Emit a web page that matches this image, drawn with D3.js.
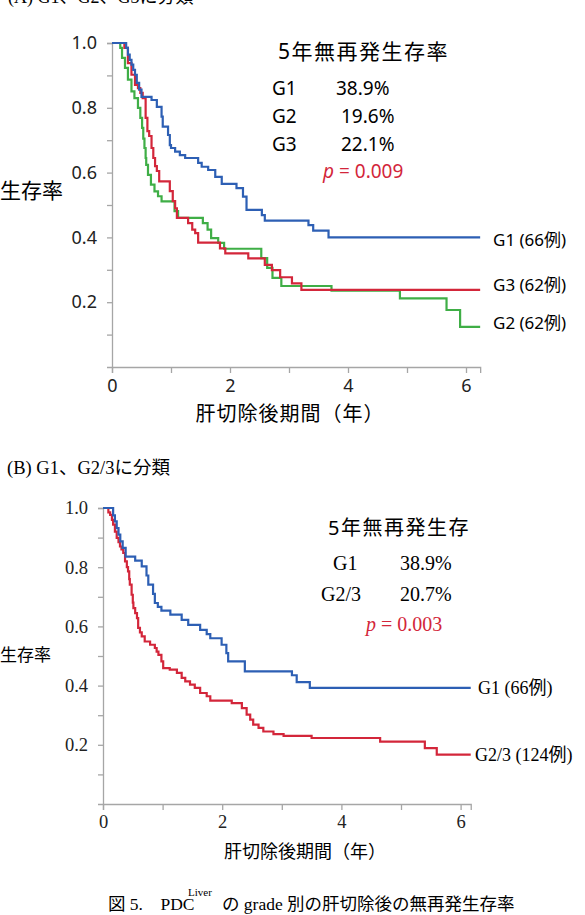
<!DOCTYPE html>
<html><head><meta charset="utf-8">
<script src="https://cdn.jsdelivr.net/npm/d3@7"></script>
<style>body{margin:0;background:#fff}svg{display:block}</style>
</head><body>
<script>
// ---------- DATA ----------
// Panel A (G1, G2, G3) : step start times (years) and survival levels
const a_g1_t = [0,0.24,0.27,0.30,0.33,0.36,0.39,0.42,0.46,0.50,0.67,0.76,0.84,0.86,0.95,0.98,1.00,1.07,1.15,1.24,1.46,1.52,1.63,1.75,1.86,2.11,2.22,2.28,2.54,2.59,3.33,3.41,3.67];
const a_g1_s = [1.0,0.985,0.964,0.948,0.933,0.917,0.902,0.877,0.856,0.834,0.824,0.803,0.773,0.742,0.716,0.685,0.676,0.665,0.654,0.645,0.63,0.618,0.608,0.587,0.565,0.552,0.526,0.485,0.469,0.452,0.438,0.421,0.40];
const a_g2_t = [0,0.14,0.17,0.22,0.27,0.33,0.38,0.44,0.48,0.51,0.53,0.55,0.57,0.58,0.61,0.66,0.72,0.78,0.84,1.06,1.12,1.54,1.62,1.68,1.80,1.90,2.53,2.63,2.72,2.87,3.72,4.88,5.67,5.90];
const a_g2_s = [1.0,0.985,0.954,0.923,0.887,0.851,0.830,0.800,0.769,0.738,0.705,0.676,0.645,0.624,0.593,0.563,0.542,0.527,0.511,0.481,0.460,0.444,0.424,0.398,0.383,0.365,0.336,0.306,0.275,0.250,0.236,0.212,0.176,0.124];
const a_g3_t = [0,0.21,0.27,0.33,0.39,0.44,0.48,0.52,0.57,0.60,0.63,0.67,0.70,0.73,0.76,0.80,0.98,1.03,1.07,1.10,1.29,1.36,1.41,1.46,1.83,1.92,2.31,2.59,2.71,2.85,3.05,3.21];
const a_g3_s = [1.0,0.985,0.938,0.902,0.871,0.861,0.846,0.830,0.769,0.728,0.713,0.676,0.645,0.620,0.605,0.573,0.543,0.512,0.490,0.460,0.444,0.424,0.413,0.384,0.366,0.351,0.335,0.315,0.299,0.277,0.258,0.238];
const a_end = 6.24;
// Panel B (G1, G2/3)
const b_g1_t = [0,0.17,0.20,0.23,0.26,0.29,0.33,0.38,0.54,0.65,0.73,0.76,0.84,0.87,0.92,0.98,1.13,1.32,1.43,1.63,1.74,1.80,1.99,2.07,2.10,2.38,3.17,3.25,3.47];
const b_g1_s = [1.0,0.975,0.955,0.932,0.910,0.887,0.865,0.836,0.822,0.803,0.772,0.741,0.710,0.679,0.666,0.653,0.640,0.622,0.605,0.588,0.574,0.560,0.538,0.510,0.482,0.448,0.435,0.412,0.392];
const b_g23_t = [0,0.09,0.12,0.15,0.17,0.20,0.23,0.26,0.285,0.31,0.34,0.37,0.40,0.42,0.44,0.45,0.48,0.50,0.51,0.54,0.57,0.59,0.62,0.65,0.70,0.79,0.87,0.90,0.93,0.98,1.01,1.12,1.24,1.32,1.38,1.46,1.54,1.63,1.74,1.80,2.16,2.33,2.41,2.47,2.52,2.61,2.69,2.86,3.03,3.50,4.65,5.40,5.60];
const b_g23_s = [1.0,0.985,0.977,0.960,0.944,0.920,0.899,0.885,0.870,0.860,0.848,0.820,0.800,0.786,0.760,0.741,0.707,0.680,0.662,0.645,0.628,0.595,0.580,0.566,0.549,0.538,0.527,0.515,0.504,0.482,0.459,0.454,0.443,0.426,0.414,0.403,0.392,0.375,0.364,0.349,0.341,0.324,0.302,0.285,0.268,0.257,0.245,0.236,0.230,0.223,0.211,0.189,0.167];
const b_end = 6.17;

const yTicks = [0.1,0.2,0.3,0.4,0.5,0.6,0.7,0.8,0.9,1.0];
const yLabels = ["","0.2","","0.4","","0.6","","0.8","","1.0"];
const xTicks = [0,1,2,3,4,5,6];
const xLabels = ["0","","2","","4","","6"];

const a_names = ["G1 (66例)","G3 (62例)","G2 (62例)"];
const a_rates = [["G1","38.9%"],["G2","19.6%"],["G3","22.1%"]];
const b_names = ["G1 (66例)","G2/3 (124例)"];
const b_rates = [["G1","38.9%"],["G2/3","20.7%"]];

// ---------- DRAW ----------
const W=585,H=915;
const svg=d3.select("body").append("svg").attr("width",W).attr("height",H);
const BLUE="#2d5fb4", RED="#d3263a", GREEN="#3fae46", AX="#a6a6a6";
const SANS="'Noto Sans','Noto Sans CJK JP',sans-serif";
const SERIF="'Liberation Serif','Noto Sans CJK JP',serif";

function pts(t,s,end){const p=t.map((v,i)=>[v,s[i]]);p.push([end,s[s.length-1]]);return p;}

function panel(cfg){
  const x=d3.scaleLinear().domain([0,cfg.end]).range([cfg.x0,cfg.x0+cfg.end*cfg.kx]);
  const y=d3.scaleLinear().domain([0,1]).range([cfg.y0,cfg.y1]);
  const g=svg.append("g");
  const xa=g.append("g").attr("transform",`translate(0,${cfg.y0})`)
    .call(d3.axisBottom(x).tickValues(xTicks).tickFormat((d,i)=>xLabels[i]).tickSizeOuter(0).tickSize(6).tickPadding(cfg.xpad));
  const ya=g.append("g").attr("transform",`translate(${cfg.x0},0)`)
    .call(d3.axisLeft(y).tickValues(yTicks).tickFormat((d,i)=>yLabels[i]).tickSizeOuter(0).tickSize(5).tickPadding(10));
  [xa,ya].forEach(a=>{a.selectAll("path,line").attr("stroke",AX).attr("stroke-width",1.3);
    a.selectAll("text").attr("fill","#222").style("font-family",cfg.font).style("font-size",cfg.fs+"px");});
  const line=d3.line().x(d=>x(d[0])).y(d=>y(d[1])).curve(d3.curveStepAfter);
  cfg.series.forEach(se=>{
    g.append("path").attr("d",line(pts(se.t,se.s,cfg.end))).attr("fill","none")
     .attr("stroke",se.c).attr("stroke-width",2.2).attr("stroke-linejoin","miter");
  });
  return {x,y};
}

// Panel A
svg.append("text").attr("x",8).attr("y",3).style("font-family",SERIF).style("font-size","18px").text("(A) G1、G2、G3に分類");
panel({x0:112,kx:59,end:a_end,y0:367,y1:43,xpad:6,font:SANS,fs:18,
  series:[{t:a_g2_t,s:a_g2_s,c:GREEN},{t:a_g3_t,s:a_g3_s,c:RED},{t:a_g1_t,s:a_g1_s,c:BLUE}]});
svg.append("text").attr("x",0).attr("y",198).style("font-family",SANS).style("font-size","21px").text("生存率");
svg.append("text").attr("x",290).attr("y",421).attr("text-anchor","middle").style("font-family",SANS).style("font-size","20px").style("letter-spacing","1px").text("肝切除後期間（年）");
svg.append("text").attr("x",278).attr("y",59).style("font-family",SANS).style("font-size","21px").style("letter-spacing","1.5px").text("5年無再発生存率");
const aRX=[336,341,341], aRY=[95,123,151];
a_rates.forEach((r,i)=>{
  svg.append("text").attr("x",272).attr("y",aRY[i]).style("font-family",SANS).style("font-size","19px").text(r[0]);
  svg.append("text").attr("x",aRX[i]).attr("y",aRY[i]).style("font-family",SANS).style("font-size","19px").text(r[1]);
});
const pa=svg.append("text").attr("x",323).attr("y",178).attr("fill",RED).style("font-family",SANS).style("font-size","19px");
pa.append("tspan").style("font-style","italic").text("p");pa.append("tspan").text(" = 0.009");
const aLY=[246,291,329];
a_names.forEach((n,i)=>svg.append("text").attr("x",493).attr("y",aLY[i]).style("font-family",SANS).style("font-size","17px").text(n));

// Panel B
svg.append("text").attr("x",7).attr("y",474).style("font-family",SERIF).style("font-size","18.5px").text("(B) G1、G2/3に分類");
panel({x0:103,kx:59.6,end:b_end,y0:804,y1:508,xpad:5,font:SERIF,fs:18.5,
  series:[{t:b_g23_t,s:b_g23_s,c:RED},{t:b_g1_t,s:b_g1_s,c:BLUE}]});
svg.append("text").attr("x",0).attr("y",661).style("font-family",SANS).style("font-size","17px").text("生存率");
svg.append("text").attr("x",305).attr("y",858).attr("text-anchor","middle").style("font-family",SANS).style("font-size","18px").text("肝切除後期間（年）");
svg.append("text").attr("x",328).attr("y",535).style("font-family",SANS).style("font-size","20px").style("letter-spacing","1.5px").text("5年無再発生存");
const bLX=[333,321], bRY=[570,601];
b_rates.forEach((r,i)=>{
  svg.append("text").attr("x",bLX[i]).attr("y",bRY[i]).style("font-family",SERIF).style("font-size","20px").text(r[0]);
  svg.append("text").attr("x",400).attr("y",bRY[i]).style("font-family",SERIF).style("font-size","20px").text(r[1]);
});
const pb=svg.append("text").attr("x",366).attr("y",631).attr("fill",RED).style("font-family",SERIF).style("font-size","20px");
pb.append("tspan").style("font-style","italic").text("p");pb.append("tspan").text(" = 0.003");
const bLY=[694,761], bNX=[478,475];
b_names.forEach((n,i)=>svg.append("text").attr("x",bNX[i]).attr("y",bLY[i]).style("font-family",SERIF).style("font-size","18px").text(n));

// Caption
const cap=svg.append("g").style("font-family",SERIF).style("font-size","17.5px");
cap.append("text").attr("x",108).attr("y",910).text("図 5.　PDC");
cap.append("text").attr("x",188).attr("y",896).style("font-size","11px").text("Liver");
cap.append("text").attr("x",222).attr("y",910).text("の grade 別の肝切除後の無再発生存率");
</script>
</body></html>
